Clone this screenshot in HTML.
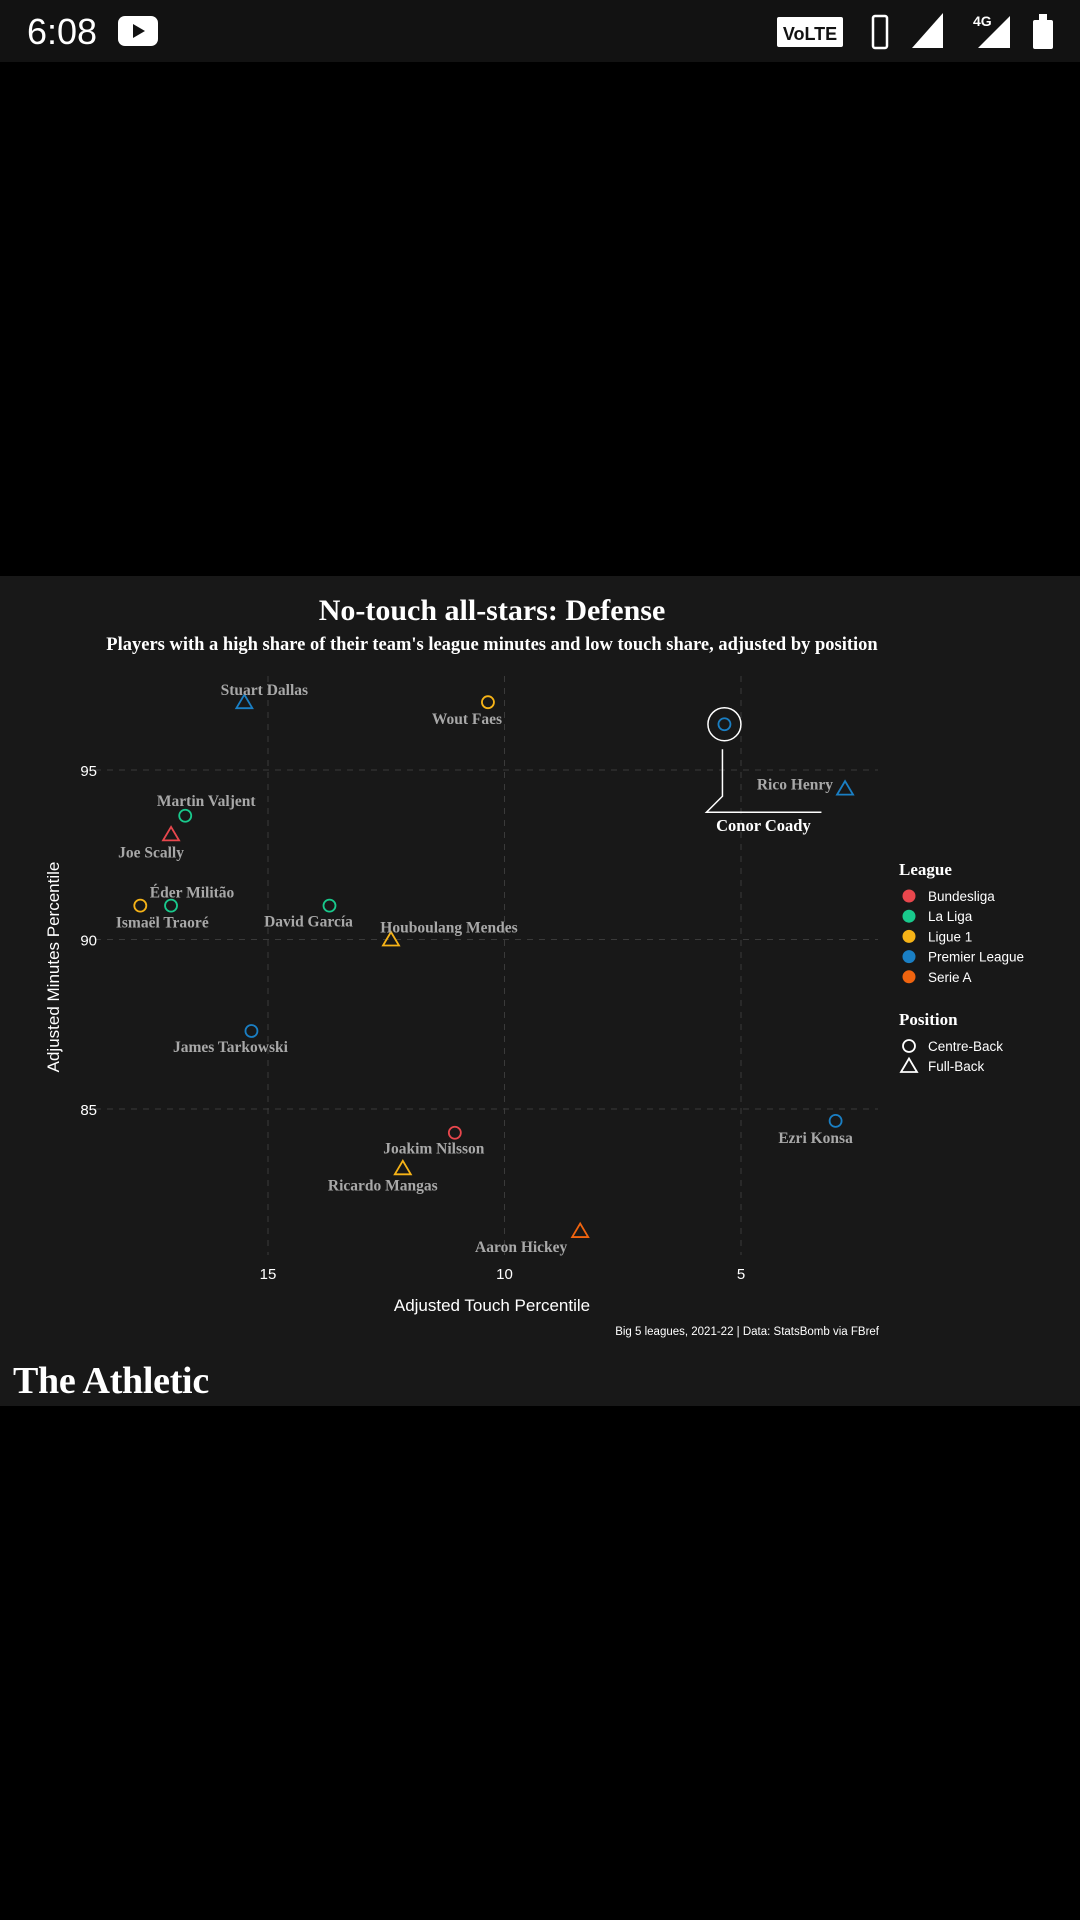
<!DOCTYPE html>
<html><head><meta charset="utf-8">
<style>
html,body{margin:0;padding:0;background:#000;width:1080px;height:1920px;overflow:hidden}
svg{display:block}
.serif{font-family:"Liberation Serif","DejaVu Serif",serif}
.sans{font-family:"Liberation Sans","DejaVu Sans",sans-serif}
</style></head>
<body>
<svg id="chart" width="1080" height="1920" viewBox="0 0 1080 1920">
  <rect x="0" y="0" width="1080" height="62" fill="#121212"/>
  <text x="27" y="44" fill="#fff" font-size="36" class="sans">6:08</text>
  <rect x="118" y="16" width="40" height="30" rx="7" fill="#fff"/>
  <polygon points="133,24 133,38 145,31" fill="#121212"/>
  <rect x="777" y="17" width="66" height="30" rx="2" fill="#fff"/>
  <text x="810" y="40" text-anchor="middle" fill="#121212" font-size="18" font-weight="bold" class="sans">VoLTE</text>
  <rect x="873" y="16" width="14" height="32" rx="2" fill="none" stroke="#fff" stroke-width="2.5"/>
  <polygon points="912,48 943,13 943,48" fill="#fff"/>
  <polygon points="978,48 1010,16 1010,48" fill="#fff"/>
  <text x="973" y="26" fill="#fff" font-size="14" font-weight="bold" class="sans">4G</text>
  <rect x="1033" y="20" width="20" height="29" rx="2" fill="#fff"/>
  <rect x="1039" y="14" width="8" height="6" fill="#fff"/>

  <rect x="0" y="576" width="1080" height="830" fill="#181818"/>
  <text x="492" y="620" text-anchor="middle" fill="#fff" font-size="30" font-weight="bold" class="serif">No-touch all-stars: Defense</text>
  <text x="492" y="650" text-anchor="middle" fill="#fff" font-size="18.5" font-weight="bold" class="serif">Players with a high share of their team's league minutes and low touch share, adjusted by position</text>

  <g id="grid"></g>
  <g id="ticks"></g>
  <text x="492" y="1311" text-anchor="middle" fill="#fff" font-size="17" class="sans">Adjusted Touch Percentile</text>
  <text transform="translate(59,967) rotate(-90)" text-anchor="middle" fill="#fff" font-size="17" class="sans">Adjusted Minutes Percentile</text>
  <text x="879" y="1335" text-anchor="end" fill="#fff" font-size="11.5" class="sans">Big 5 leagues, 2021-22 | Data: StatsBomb via FBref</text>

  <g id="annot"></g>
  <g id="marks"></g>
  <g id="legend"></g>

  <text x="13" y="1393" fill="#fff" font-size="38" font-weight="bold" class="serif" letter-spacing="-0.3">The Athletic</text>
</svg>
<script>
const players = ["Stuart Dallas","Wout Faes","Conor Coady","Rico Henry","Martin Valjent","Joe Scally","Éder Militão","Ismaël Traoré","David García","Houboulang Mendes","James Tarkowski","Joakim Nilsson","Ricardo Mangas","Aaron Hickey","Ezri Konsa"];
const touchPct = [15.5,10.35,5.35,2.8,16.75,17.05,17.05,17.7,13.7,12.4,15.35,11.05,12.15,8.4,3.0];
const minutesPct = [97.0,97.0,96.35,94.45,93.65,93.1,91.0,91.0,91.0,90.0,87.3,84.3,83.25,81.4,84.65];
const leagues = ["Premier League","Ligue 1","Premier League","Premier League","La Liga","Bundesliga","La Liga","Ligue 1","La Liga","Ligue 1","Premier League","Bundesliga","Ligue 1","Serie A","Premier League"];
const positions = ["Full-Back","Centre-Back","Centre-Back","Full-Back","Centre-Back","Full-Back","Centre-Back","Centre-Back","Centre-Back","Full-Back","Centre-Back","Centre-Back","Full-Back","Full-Back","Centre-Back"];
const xTicks = [15,10,5];
const yTicks = [95,90,85];
const leagueNames = ["Bundesliga","La Liga","Ligue 1","Premier League","Serie A"];
const positionNames = ["Centre-Back","Full-Back"];
// label offsets (layout, px)
const labelDx = [20,-21,0,-12,21,-20,21,22,-21,58,-21,-21,-20,-59,-20];
const labelDy = [-12,17,0,-4,-15,18,-13,17,16,-12,16,16,17,16,17];
const labelAnchor = ["middle","middle","none","end","middle","middle","middle","middle","middle","middle","middle","middle","middle","middle","middle"];

const colors = {"Bundesliga":"#e8474d","La Liga":"#19c98c","Ligue 1":"#f6b317","Premier League":"#1a7fc4","Serie A":"#f0640f"};
const NS = "http://www.w3.org/2000/svg";
const X0 = 83, X1 = 878, Y0 = 676, Y1 = 1255;
function xs(v){ return 268 + (15 - v) * 47.3; }
function ys(v){ return 770 + (95 - v) * 33.9; }
function mk(tag, attrs, parent){ const e = document.createElementNS(NS, tag); for (const k in attrs) e.setAttribute(k, attrs[k]); parent.appendChild(e); return e; }

const grid = document.getElementById('grid'), ticks = document.getElementById('ticks');
xTicks.forEach(t => {
  const l = mk('line', {x1:xs(t), x2:xs(t), y1:Y0, y2:Y1, stroke:'#3a3a3a', 'stroke-dasharray':'6,6', 'stroke-width':1}, grid);
  
  
  const tx = mk('text', {x:xs(t), y:1279, 'text-anchor':'middle', fill:'#fff', 'font-size':15, class:'sans'}, ticks);
  tx.textContent = t;
  
  
});
yTicks.forEach(t => {
  const l = mk('line', {x1:X0, x2:X1, y1:ys(t), y2:ys(t), stroke:'#3a3a3a', 'stroke-dasharray':'6,6', 'stroke-width':1}, grid);
  
  
  const tx = mk('text', {x:97, y:ys(t)+6, 'text-anchor':'end', fill:'#fff', 'font-size':15, class:'sans'}, ticks);
  tx.textContent = t;
  
  
});

function marker(parent, cx, cy, pos, col){
  if (pos === "Centre-Back") {
    return mk('circle', {cx:cx, cy:cy, r:6, fill:'none', stroke:col, 'stroke-width':1.8}, parent);
  }
  return mk('polygon', {points:`${cx},${cy-7.5} ${cx-8},${cy+6} ${cx+8},${cy+6}`, fill:'none', stroke:col, 'stroke-width':1.8}, parent);
}

const marks = document.getElementById('marks');
const annot = document.getElementById('annot');
players.forEach((p, i) => {
  const cx = xs(touchPct[i]), cy = ys(minutesPct[i]);
  const m = marker(marks, cx, cy, positions[i], colors[leagues[i]]);
  
  
  if (p === "Conor Coady") {
    const c = mk('circle', {cx:cx, cy:cy, r:16.5, fill:'none', stroke:'#fff', 'stroke-width':1.5}, annot);
    
    
    const pl = mk('polyline', {points:`${cx-2},${cy+25} ${cx-2},${cy+72} ${cx-18},${cy+88} ${cx+97},${cy+88}`, fill:'none', stroke:'#fff', 'stroke-width':1.5}, annot);
    
    
    const t = mk('text', {x:cx+39, y:cy+107, 'text-anchor':'middle', fill:'#fff', 'font-size':16.5, 'font-weight':'bold', class:'serif'}, annot);
    t.textContent = p;
    
    
  } else {
    const t = mk('text', {x:cx+labelDx[i], y:cy+labelDy[i]+5, 'text-anchor':labelAnchor[i], fill:'#a8a8a8', 'font-size':15.5, 'font-weight':'bold', class:'serif'}, marks);
    t.textContent = p;
    
    
  }
});

const legend = document.getElementById('legend');
const lt = mk('text', {x:899, y:875, fill:'#fff', 'font-size':17, 'font-weight':'bold', class:'serif'}, legend);
lt.textContent = "League";


leagueNames.forEach((n, i) => {
  const y = 896 + i * 20.2;
  const d = mk('circle', {cx:909, cy:y, r:6.5, fill:colors[n]}, legend);
  
  
  const t = mk('text', {x:928, y:y+5, fill:'#fff', 'font-size':13.5, class:'sans'}, legend);
  t.textContent = n;
  
  
});
const pt = mk('text', {x:899, y:1025, fill:'#fff', 'font-size':17, 'font-weight':'bold', class:'serif'}, legend);
pt.textContent = "Position";


positionNames.forEach((n, i) => {
  const y = 1046 + i * 20;
  const m = marker(legend, 909, y, n, '#fff');
  
  
  const t = mk('text', {x:928, y:y+5, fill:'#fff', 'font-size':13.5, class:'sans'}, legend);
  t.textContent = n;
  
  
});
</script>
</body></html>
